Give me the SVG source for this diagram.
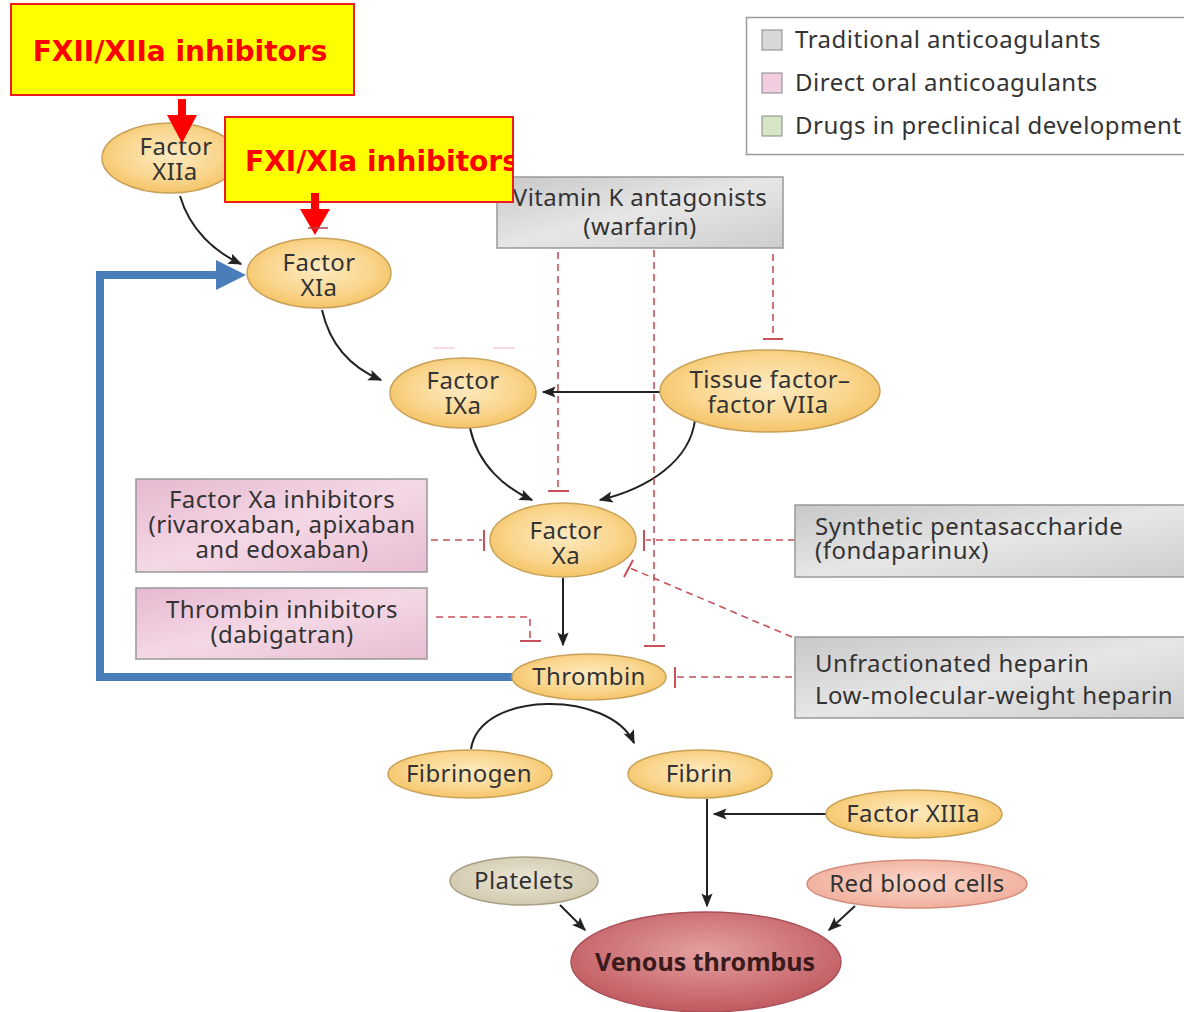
<svg xmlns="http://www.w3.org/2000/svg" width="1184" height="1012" viewBox="0 0 1184 1012">
<defs>
<radialGradient id="gy" cx="50%" cy="45%" r="60%"><stop offset="0" stop-color="#fdeac0"/><stop offset="0.6" stop-color="#fad68e"/><stop offset="1" stop-color="#f3bf5e"/></radialGradient>
<radialGradient id="gp" cx="50%" cy="45%" r="60%"><stop offset="0" stop-color="#ebe6d6"/><stop offset="1" stop-color="#cfc6aa"/></radialGradient>
<radialGradient id="gr" cx="50%" cy="45%" r="60%"><stop offset="0" stop-color="#fad8cc"/><stop offset="1" stop-color="#f0ab98"/></radialGradient>
<radialGradient id="gv" cx="50%" cy="40%" r="60%"><stop offset="0" stop-color="#e4a0a0"/><stop offset="1" stop-color="#c05a60"/></radialGradient>
<linearGradient id="gg" x1="0" y1="0" x2="1" y2="1"><stop offset="0" stop-color="#c8c8c8"/><stop offset="0.5" stop-color="#e6e6e6"/><stop offset="1" stop-color="#cdcdcd"/></linearGradient>
<linearGradient id="gk" x1="0" y1="0" x2="1" y2="1"><stop offset="0" stop-color="#e6b8cf"/><stop offset="0.5" stop-color="#f4d8e6"/><stop offset="1" stop-color="#e8bdd2"/></linearGradient>
<marker id="ah2" viewBox="0 0 10 10" refX="9" refY="5" markerWidth="18" markerHeight="14" markerUnits="userSpaceOnUse" orient="auto"><path d="M0,1 L10,5 L0,9 L2,5 Z" fill="#222"/></marker>
<clipPath id="c2"><rect x="225" y="117" width="288" height="85"/></clipPath>
</defs>
<style>
.el{stroke:#c9a25a;stroke-width:1.5}
.t{font-family:"Noto Sans","Open Sans",sans-serif;font-size:24px;letter-spacing:0.4px;fill:#333;text-anchor:middle}
.tl{font-family:"Noto Sans","Open Sans",sans-serif;font-size:24px;letter-spacing:0.5px;fill:#333}
.box{stroke:#999;stroke-width:1.5}
.ar{fill:none;stroke:#222;stroke-width:2}
.dr{fill:none;stroke:#c8505a;stroke-width:1.6;stroke-dasharray:7 5}
.bar{fill:none;stroke:#c8505a;stroke-width:2}
.yb{fill:#ffff00;stroke:#ee1c1c;stroke-width:2}
.yt{font-family:"DejaVu Sans",Verdana,sans-serif;font-weight:bold;font-size:28px;fill:#ff0000}
</style>

<g id="legend">
<rect x="746.5" y="17.5" width="450" height="137" fill="#fff" stroke="#999" stroke-width="1.5"/>
<rect x="762" y="30" width="20" height="20" fill="#d8d8d8" stroke="#888"/>
<rect x="762" y="73" width="20" height="20" fill="#f2cde0" stroke="#888"/>
<rect x="762" y="116" width="20" height="20" fill="#d6e6c4" stroke="#888"/>
<text class="tl" x="795" y="48">Traditional anticoagulants</text>
<text class="tl" x="795" y="91">Direct oral anticoagulants</text>
<text class="tl" x="795" y="134">Drugs in preclinical development</text>
</g>

<g id="connectors">
<path class="ar" d="M180,196 C190,230 215,252 241,264" marker-end="url(#ah2)"/>
<path class="ar" d="M322,310 C330,345 352,368 381,380" marker-end="url(#ah2)"/>
<path class="ar" d="M661,392 L543,392" marker-end="url(#ah2)"/>
<path class="ar" d="M470,428 C478,465 505,488 532,500" marker-end="url(#ah2)"/>
<path class="ar" d="M695,420 C690,460 650,488 600,500" marker-end="url(#ah2)"/>
<path class="ar" d="M563,578 L563,645" marker-end="url(#ah2)"/>
<path class="ar" d="M471,749 C480,690 610,690 634,743" marker-end="url(#ah2)"/>
<path class="ar" d="M826,814 L714,814" marker-end="url(#ah2)"/>
<path class="ar" d="M707,799 L707,906" marker-end="url(#ah2)"/>
<path class="ar" d="M560,905 L585,930" marker-end="url(#ah2)"/>
<path class="ar" d="M855,906 L829,930" marker-end="url(#ah2)"/>
<path class="dr" d="M558,252 L558,489"/><path class="bar" d="M548,491 L569,491"/>
<path class="dr" d="M654,250 L654,644"/><path class="bar" d="M644,646 L665,646"/>
<path class="dr" d="M773,254 L773,338"/><path class="bar" d="M763,339 L783,339"/>
<path class="dr" d="M431,540 L482,540"/><path class="bar" d="M484,530 L484,551"/>
<path class="dr" d="M436,617 L530,617 L530,640"/><path class="bar" d="M520,641 L541,641"/>
<path class="dr" d="M795,540 L646,540"/><path class="bar" d="M644,530 L644,551"/>
<path class="dr" d="M792,637 L630,568"/><path class="bar" d="M624,577 L633,560"/>
<path class="dr" d="M792,677 L677,677"/><path class="bar" d="M675,667 L675,688"/>
<path d="M433,348 L455,348 M493,348 L515,348" stroke="#f0b8c0" stroke-width="1.2" fill="none"/>
<path d="M515,677 L100,677 L100,275 L220,275" fill="none" stroke="#4a7ebb" stroke-width="8"/>
<path d="M216,260 L246,275 L216,290 Z" fill="#4a7ebb"/>
</g>

<g id="factor-xiia">
<ellipse class="el" cx="170" cy="158" rx="68" ry="35" fill="url(#gy)"/>
<text class="t" x="176" y="155">Factor</text>
<text class="t" x="175" y="180">XIIa</text>
</g>
<g id="factor-xia">
<ellipse class="el" cx="319" cy="273" rx="72" ry="35" fill="url(#gy)"/>
<text class="t" x="319" y="271">Factor</text>
<text class="t" x="319" y="296">XIa</text>
</g>
<g id="factor-ixa">
<ellipse class="el" cx="463" cy="393" rx="73" ry="35" fill="url(#gy)"/>
<text class="t" x="463" y="389">Factor</text>
<text class="t" x="463" y="414">IXa</text>
</g>
<g id="tissue-factor">
<ellipse class="el" cx="770" cy="391" rx="110" ry="41" fill="url(#gy)"/>
<text class="t" x="770" y="388">Tissue factor–</text>
<text class="t" x="768" y="413">factor VIIa</text>
</g>
<g id="factor-xa">
<ellipse class="el" cx="563" cy="540" rx="73" ry="37" fill="url(#gy)"/>
<text class="t" x="566" y="539">Factor</text>
<text class="t" x="566" y="564">Xa</text>
</g>
<g id="thrombin">
<ellipse class="el" cx="589" cy="677" rx="77" ry="23" fill="url(#gy)"/>
<text class="t" x="589" y="685">Thrombin</text>
</g>
<g id="fibrinogen">
<ellipse class="el" cx="470" cy="774" rx="82" ry="24" fill="url(#gy)"/>
<text class="t" x="469" y="782">Fibrinogen</text>
</g>
<g id="fibrin">
<ellipse class="el" cx="700" cy="774" rx="72" ry="24" fill="url(#gy)"/>
<text class="t" x="699" y="782">Fibrin</text>
</g>
<g id="factor-xiiia">
<ellipse class="el" cx="914" cy="814" rx="88" ry="24" fill="url(#gy)"/>
<text class="t" x="913" y="822">Factor XIIIa</text>
</g>
<g id="platelets">
<ellipse cx="524" cy="881" rx="74" ry="24" fill="url(#gp)" stroke="#a89f86" stroke-width="1.5"/>
<text class="t" x="524" y="889">Platelets</text>
</g>
<g id="red-blood-cells">
<ellipse cx="917" cy="884" rx="110" ry="24" fill="url(#gr)" stroke="#d48c7c" stroke-width="1.5"/>
<text class="t" x="917" y="892">Red blood cells</text>
</g>
<g id="venous-thrombus">
<ellipse cx="706" cy="962" rx="135" ry="50" fill="url(#gv)" stroke="#a85058" stroke-width="1.5"/>
<text x="705" y="971" font-family="'Noto Sans','Open Sans',sans-serif" font-size="25" font-weight="bold" fill="#3a1a1a" text-anchor="middle">Venous thrombus</text>
</g>

<g id="vitamin-k">
<rect class="box" x="497" y="177" width="286" height="71" fill="url(#gg)"/>
<text class="t" x="640" y="206">Vitamin K antagonists</text>
<text class="t" x="640" y="235">(warfarin)</text>
</g>
<g id="fxa-inhibitors">
<rect class="box" x="136" y="479" width="291" height="93" fill="url(#gk)"/>
<text class="t" x="282" y="508">Factor Xa inhibitors</text>
<text class="t" x="282" y="533">(rivaroxaban, apixaban</text>
<text class="t" x="282" y="558">and edoxaban)</text>
</g>
<g id="thrombin-inhibitors">
<rect class="box" x="136" y="588" width="291" height="71" fill="url(#gk)"/>
<text class="t" x="282" y="618">Thrombin inhibitors</text>
<text class="t" x="282" y="643">(dabigatran)</text>
</g>
<g id="pentasaccharide">
<rect class="box" x="795" y="505" width="400" height="72" fill="url(#gg)"/>
<text class="tl" x="815" y="535">Synthetic pentasaccharide</text>
<text class="tl" x="815" y="559">(fondaparinux)</text>
</g>
<g id="heparin">
<rect class="box" x="795" y="637" width="400" height="81" fill="url(#gg)"/>
<text class="tl" x="815" y="672">Unfractionated heparin</text>
<text class="tl" x="815" y="704">Low-molecular-weight heparin</text>
</g>

<g id="fxii-inhibitors">
<rect class="yb" x="11" y="4" width="343" height="91"/>
<text class="yt" x="180" y="61" text-anchor="middle">FXII/XIIa inhibitors</text>
<path d="M178,99 L186,99 L186,115 L197,115 L182,143 L167,115 L178,115 Z" fill="#ff0000"/>
</g>
<g id="fxi-inhibitors">
<rect class="yb" x="225" y="117" width="288" height="85"/>
<text class="yt" x="245" y="171" clip-path="url(#c2)">FXI/XIa inhibitors</text>
<path d="M311,193 L319,193 L319,209 L330,209 L315,235 L300,209 L311,209 Z" fill="#ff0000"/>
<path d="M308,228 L328,228" stroke="#b04050" stroke-width="1.5"/>
</g>
</svg>
